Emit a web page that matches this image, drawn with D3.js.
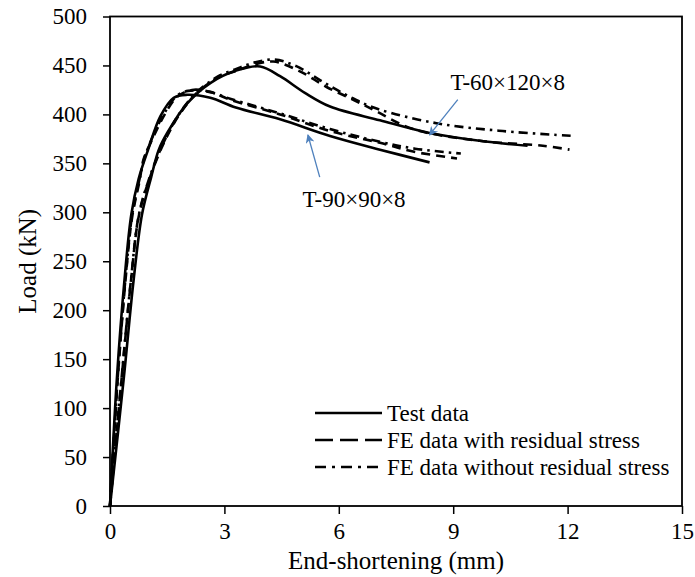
<!DOCTYPE html>
<html>
<head>
<meta charset="utf-8">
<script src="https://cdn.jsdelivr.net/npm/d3@7"></script>
<style>
  html, body { margin: 0; padding: 0; background: #fff; }
  svg { display: block; }
  text { font-family: "Liberation Serif", "Times New Roman", serif; fill: #000; }
</style>
</head>
<body>
<svg id="chart" width="695" height="577"></svg>
<script>
// ---------- data (End-shortening mm, Load kN) ----------
const xTicks = [0, 3, 6, 9, 12, 15];
const yTicks = [0, 50, 100, 150, 200, 250, 300, 350, 400, 450, 500];

// T-90x90x8
const test90X = [0, 0.18, 0.38, 0.56, 0.75, 1.0, 1.32, 1.67, 2.02, 2.63, 3.3, 4.46, 5.77, 7.08, 8.38];
const test90Y = [0, 130, 231, 298, 334, 364, 398, 417, 420, 417, 407, 395, 378, 364, 351];
const feRes90X = [0, 0.2, 0.4, 0.58, 0.78, 0.88, 1.15, 1.45, 1.76, 2.15, 2.63, 3.15, 4.46, 5.77, 7.08, 7.95, 9.1];
const feRes90Y = [0, 128, 228, 295, 333, 354, 378, 401, 418, 425, 423, 415, 400, 383, 371, 362, 355];
const feNo90X = [0, 0.2, 0.4, 0.58, 0.78, 0.9, 1.15, 1.45, 1.75, 2.05, 2.6, 3.15, 4.46, 5.77, 7.08, 8.0, 9.2];
const feNo90Y = [0, 130, 230, 297, 335, 355, 380, 403, 419, 424, 423, 416, 401, 385, 372, 365, 360];

// T-60x120x8
const test60X = [0, 0.36, 0.62, 0.84, 1.08, 1.28, 1.5, 2.02, 2.63, 3.33, 3.94, 4.46, 5.11, 5.77, 7.08, 8.38, 9.69, 10.95];
const test60Y = [0, 130, 231, 298, 336, 364, 381, 411, 432, 445, 449, 439, 422, 408, 394, 381, 373, 368];
const feRes60X = [0, 0.3, 0.55, 0.76, 1.06, 1.45, 1.84, 2.28, 2.89, 3.28, 3.7, 4.28, 4.98, 5.68, 6.38, 6.99, 7.95, 9.7, 11.35, 12.05];
const feRes60Y = [0, 128, 230, 297, 337, 374, 401, 422, 439, 444, 450, 454, 444, 428, 415, 403, 385, 373, 368, 364];
const feNo60X = [0, 0.3, 0.55, 0.76, 1.06, 1.45, 1.84, 2.28, 2.89, 3.28, 3.7, 4.3, 4.9, 5.59, 6.29, 6.99, 8.56, 10.3, 12.13];
const feNo60Y = [0, 129, 231, 298, 338, 375, 402, 423, 440, 446, 452, 456, 449, 433, 418, 406, 391, 383, 378];

const legendLabels = ["Test data", "FE data with residual stress", "FE data without residual stress"];
const xTitle = "End-shortening (mm)";
const yTitle = "Load (kN)";
const annot60 = "T-60×120×8";
const annot90 = "T-90×90×8";

// ---------- layout ----------
const L = 110, R = 682, T = 16.5, B = 506;
const svg = d3.select("#chart");
const x = d3.scaleLinear().domain([0, 15]).range([L, R]);
const y = d3.scaleLinear().domain([0, 500]).range([B, T]);

const styles = {
  solid: null,
  dash: "9,6",
  dashdot: "9,5,2.5,5"
};

// axes
const gx = svg.append("g").attr("transform", `translate(0,${B})`)
  .call(d3.axisBottom(x).tickValues(xTicks).tickSize(8).tickPadding(9).tickFormat(d3.format("d")));
const gy = svg.append("g").attr("transform", `translate(${L},0)`)
  .call(d3.axisLeft(y).tickValues(yTicks).tickSize(7).tickPadding(16).tickFormat(d3.format("d")));
[gx, gy].forEach(g => {
  g.select(".domain").remove();
  g.selectAll(".tick line").attr("stroke", "#000").attr("stroke-width", 1.5);
  g.selectAll(".tick text").style("font-size", "23px")
    .style("font-family", '"Liberation Serif", "Times New Roman", serif').attr("fill", "#000");
});

// frame
svg.append("rect").attr("x", L).attr("y", T).attr("width", R - L).attr("height", B - T)
  .attr("fill", "none").attr("stroke", "#000").attr("stroke-width", 1.8);

// titles
svg.append("text").attr("x", (L + R) / 2).attr("y", 569).attr("text-anchor", "middle")
  .style("font-size", "25px").text(xTitle);
svg.append("text").attr("transform", `translate(27,${(T + B) / 2}) rotate(-90)`)
  .attr("text-anchor", "middle").attr("dominant-baseline", "central")
  .style("font-size", "25px").text(yTitle);

// curves
const line = d3.line().x(d => x(d[0])).y(d => y(d[1])).curve(d3.curveCatmullRom.alpha(0.5));
const series = [
  [feNo90X, feNo90Y, "dashdot"],
  [feRes90X, feRes90Y, "dash"],
  [test90X, test90Y, "solid"],
  [feNo60X, feNo60Y, "dashdot"],
  [feRes60X, feRes60Y, "dash"],
  [test60X, test60Y, "solid"]
];
series.forEach(([xs, ys, st]) => {
  const pts = xs.map((v, i) => [v, ys[i]]);
  svg.append("path").datum(pts).attr("d", line)
    .attr("fill", "none").attr("stroke", "#000").attr("stroke-width", 2.6)
    .attr("stroke-dasharray", styles[st]);
});

// legend
const legStyles = [null, "18,7", "11,6,3,6"];
legendLabels.forEach((lab, i) => {
  const ly = 413 + i * 27;
  svg.append("line").attr("x1", 315).attr("x2", 382).attr("y1", ly).attr("y2", ly)
    .attr("stroke", "#000").attr("stroke-width", 2.6).attr("stroke-dasharray", legStyles[i]);
  svg.append("text").attr("x", 387).attr("y", ly).attr("dominant-baseline", "central")
    .style("font-size", "23px").text(lab);
});

// annotations with arrows
const defs = svg.append("defs");
defs.append("marker").attr("id", "ah").attr("viewBox", "0 0 10 10")
  .attr("refX", 9).attr("refY", 5).attr("markerWidth", 11).attr("markerHeight", 9)
  .attr("markerUnits", "userSpaceOnUse").attr("orient", "auto")
  .append("path").attr("d", "M0,0 L10,5 L0,10 L3,5 Z").attr("fill", "#4F81BD");

function arrow(fromX, fromY, toX, toY) {
  svg.append("line").attr("x1", x(fromX)).attr("y1", y(fromY)).attr("x2", x(toX)).attr("y2", y(toY))
    .attr("stroke", "#4F81BD").attr("stroke-width", 1.3).attr("marker-end", "url(#ah)");
}
// arrows point at data locations on the test curves
arrow(9.12, 415, 8.38, 379);
arrow(5.5, 336, 5.19, 379);

svg.append("text").attr("x", x(8.93)).attr("y", 90).style("font-size", "23px").text(annot60);
svg.append("text").attr("x", x(5.05)).attr("y", 207).style("font-size", "23px").text(annot90);
</script>
</body>
</html>
